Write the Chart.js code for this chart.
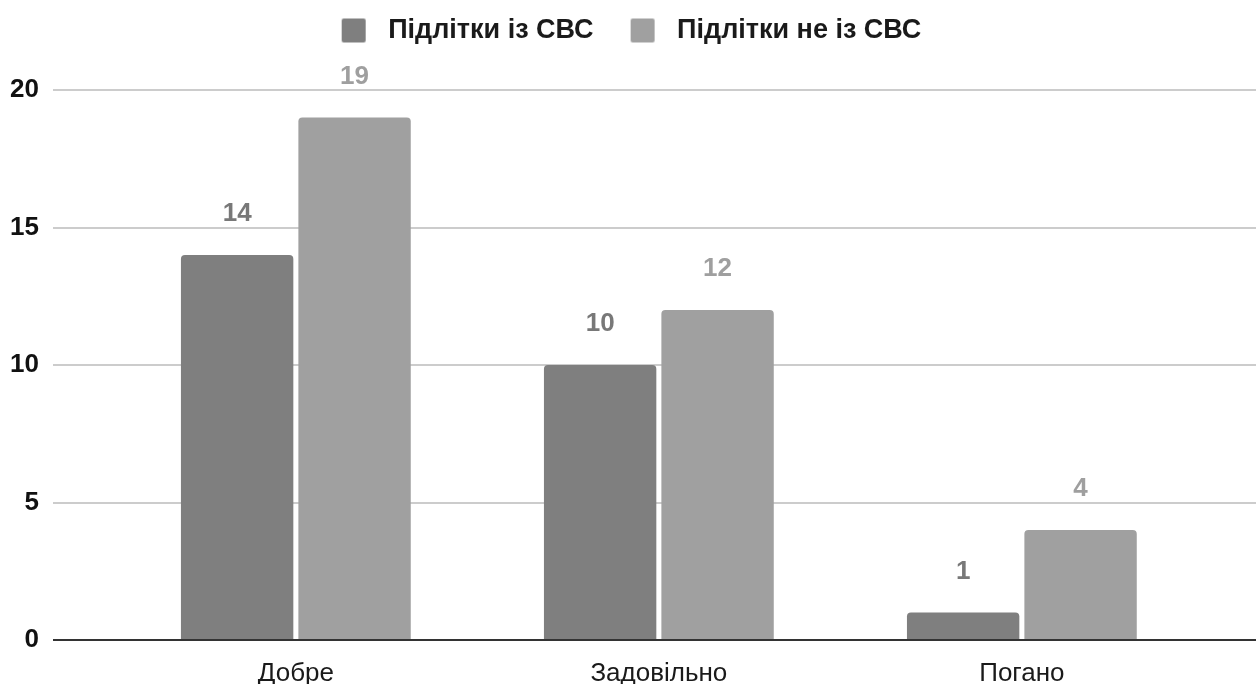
<!DOCTYPE html>
<html>
<head>
<meta charset="utf-8">
<script src="https://cdn.jsdelivr.net/npm/chart.js@4.4.1/dist/chart.umd.min.js"></script>
<style>
  html, body { margin: 0; padding: 0; background: #ffffff; }
  #wrap { width: 1256px; height: 684px; position: relative; }
</style>
</head>
<body>
<div id="wrap"><canvas id="chart"></canvas></div>
<script>
// Categories and series values
const categories = ['Добре', 'Задовільно', 'Погано'];
const seriesNames = ['Підлітки із СВС', 'Підлітки не із СВС'];
const withSvs = [14, 10, 1];
const withoutSvs = [19, 12, 4];
const yTicks = [0, 5, 10, 15, 20];

const FONT = "'Liberation Sans', Arial, sans-serif";
const barColors = ['#7f7f7f', '#a0a0a0'];
const labelColors = ['#787878', '#9f9f9f'];

const toPoints = vals => vals.map((v, i) => ({ x: i, y: v }));

// Small rounded legend swatch, drawn into its own canvas and used as a point style
function swatch(color) {
  const c = document.createElement('canvas');
  c.width = 60;
  c.height = 26;
  const g = c.getContext('2d');
  g.fillStyle = color;
  g.beginPath();
  g.roundRect(27, 1, 24, 24, 2);
  g.fill();
  return c;
}
const swatches = barColors.map(swatch);

// Value labels above each bar
const valueLabels = {
  id: 'valueLabels',
  afterDatasetsDraw(chart) {
    const ctx = chart.ctx;
    ctx.save();
    ctx.font = 'bold 26px ' + FONT;
    ctx.textAlign = 'center';
    ctx.textBaseline = 'middle';
    chart.data.datasets.forEach((ds, di) => {
      const meta = chart.getDatasetMeta(di);
      meta.data.forEach((el, i) => {
        ctx.fillStyle = labelColors[di];
        ctx.fillText(String(ds.data[i].y), el.x, el.y - 41);
      });
    });
    ctx.restore();
  }
};

// Extra room between the legend and the plot, and a slight leftward nudge of the legend row
const legendGap = {
  id: 'legendGap',
  beforeInit(chart) {
    const fit = chart.legend.fit;
    chart.legend.fit = function () {
      fit.call(this);
      this.height += 36;
      if (this.lineWidths && this.lineWidths.length) this.lineWidths[0] += 20;
    };
  }
};

new Chart(document.getElementById('chart'), {
  type: 'bar',
  data: {
    datasets: [
      { label: seriesNames[0], data: toPoints(withSvs), backgroundColor: barColors[0] },
      { label: seriesNames[1], data: toPoints(withoutSvs), backgroundColor: barColors[1] }
    ]
  },
  options: {
    responsive: true,
    maintainAspectRatio: false,
    animation: false,
    devicePixelRatio: 1,
    layout: { padding: { top: 7, right: 0, left: 0, bottom: 0 } },
    datasets: {
      bar: {
        categoryPercentage: 0.647,
        barPercentage: 0.957,
        borderRadius: 4,
        borderSkipped: 'start'
      }
    },
    plugins: {
      legend: {
        position: 'top',
        align: 'center',
        labels: {
          usePointStyle: true,
          pointStyleWidth: 60,
          padding: 10,
          color: '#1a1a1a',
          font: { family: FONT, size: 27, weight: 'bold' },
          generateLabels(chart) {
            const items = Chart.defaults.plugins.legend.labels.generateLabels(chart);
            items.forEach((it, i) => { it.pointStyle = swatches[i]; });
            return items;
          }
        }
      },
      tooltip: { enabled: false }
    },
    scales: {
      x: {
        type: 'linear',
        min: -0.669,
        max: 2.645,
        offset: false,
        grid: { display: false, offset: false },
        border: { display: false },
        afterBuildTicks: s => { s.ticks = categories.map((c, i) => ({ value: i })); },
        afterFit: s => { s.height = 44; },
        ticks: {
          padding: 10,
          color: '#1a1a1a',
          font: { family: FONT, size: 26 },
          callback: v => categories[v] ?? ''
        }
      },
      y: {
        min: 0,
        max: 20,
        afterBuildTicks: s => { s.ticks = yTicks.map(v => ({ value: v })); },
        afterFit: s => { s.width = 53; },
        border: { display: false },
        grid: {
          drawTicks: false,
          lineWidth: 2,
          color: c => (c.tick && c.tick.value === 0 ? '#333333' : '#cccccc')
        },
        ticks: {
          padding: 14,
          color: '#111111',
          font: { family: FONT, size: 26, weight: 'bold' }
        }
      }
    }
  },
  plugins: [valueLabels, legendGap]
});
</script>
</body>
</html>
